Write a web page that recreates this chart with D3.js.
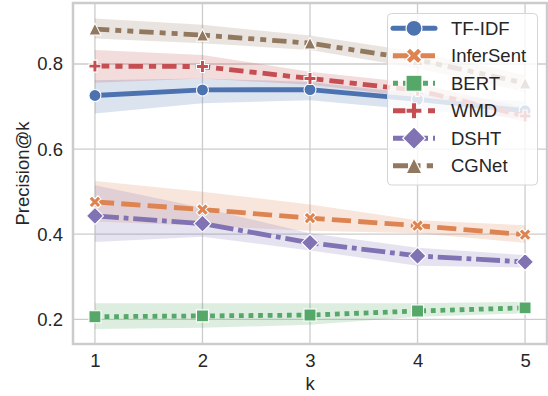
<!DOCTYPE html>
<html>
<head>
<meta charset="utf-8">
<script src="https://cdn.jsdelivr.net/npm/d3@7"></script>
<style>
  html, body { margin: 0; padding: 0; background: #ffffff; }
  svg { display: block; font-family: "Liberation Sans", Arial, sans-serif; }
</style>
</head>
<body>
<svg id="chart" width="548" height="396"></svg>
<script>
// ---- data ----
const kValues = [1, 2, 3, 4, 5];
const seriesNames = ["TF-IDF", "InferSent", "BERT", "WMD", "DSHT", "CGNet"];
const tfidfMean = [0.726, 0.739, 0.740, 0.717, 0.690];
const tfidfLow  = [0.684, 0.708, 0.715, 0.692, 0.672];
const tfidfHigh = [0.762, 0.766, 0.758, 0.730, 0.712];
const inferSentMean = [0.476, 0.458, 0.438, 0.420, 0.399];
const inferSentLow  = [0.430, 0.420, 0.408, 0.402, 0.380];
const inferSentHigh = [0.525, 0.500, 0.470, 0.433, 0.421];
const bertMean = [0.206, 0.208, 0.210, 0.2195, 0.227];
const bertLow  = [0.177, 0.180, 0.187, 0.206, 0.214];
const bertHigh = [0.238, 0.238, 0.2375, 0.2375, 0.241];
const wmdMean = [0.795, 0.794, 0.766, 0.738, 0.678];
const wmdLow  = [0.756, 0.766, 0.751, 0.722, 0.664];
const wmdHigh = [0.833, 0.821, 0.782, 0.755, 0.697];
const dshtMean = [0.443, 0.425, 0.380, 0.349, 0.335];
const dshtLow  = [0.382, 0.394, 0.362, 0.326, 0.322];
const dshtHigh = [0.515, 0.462, 0.402, 0.368, 0.351];
const cgnetMean = [0.882, 0.868, 0.849, 0.810, 0.755];
const cgnetLow  = [0.860, 0.849, 0.833, 0.790, 0.735];
const cgnetHigh = [0.907, 0.892, 0.867, 0.828, 0.774];
const xTicks = [1, 2, 3, 4, 5];
const yTicks = [0.2, 0.4, 0.6, 0.8];
const xLabel = "k";
const yLabel = "Precision@k";

// ---- styles ----
const colors = ["#4c72b0", "#dd8452", "#55a868", "#c44e52", "#8172b3", "#937860"];
const lw = 4.8;
const dashUnits = [null, [4, 1.5], [1, 1], [3, 1.25, 1.5, 1.25], [5, 1, 1, 1], [3, 1.25, 1.25, 1.25, 1.25, 1.25]];
const markerTypes = ["circle", "x", "square", "plus", "diamond", "triangle"];
const fontSize = 18.5;

const series = [
  {mean: tfidfMean, low: tfidfLow, high: tfidfHigh},
  {mean: inferSentMean, low: inferSentLow, high: inferSentHigh},
  {mean: bertMean, low: bertLow, high: bertHigh},
  {mean: wmdMean, low: wmdLow, high: wmdHigh},
  {mean: dshtMean, low: dshtLow, high: dshtHigh},
  {mean: cgnetMean, low: cgnetLow, high: cgnetHigh}
].map((s, i) => ({...s, name: seriesNames[i], color: colors[i], dash: dashUnits[i], marker: markerTypes[i]}));

const svg = d3.select("#chart");
const L = 73, R = 547, T = 3, B = 344;
const x = d3.scaleLinear().domain([0.796, 5.204]).range([L, R]);
const y = d3.scaleLinear().domain([0.142, 0.9434]).range([B, T]);
const textColor = "#262626";
const gridColor = "#cccccc";

// grid
const g = svg.append("g");
g.selectAll(".gx").data(xTicks).join("line")
  .attr("x1", d => x(d)).attr("x2", d => x(d)).attr("y1", T).attr("y2", B)
  .attr("stroke", gridColor).attr("stroke-width", 1.3);
g.selectAll(".gy").data(yTicks).join("line")
  .attr("x1", L).attr("x2", R).attr("y1", d => y(d)).attr("y2", d => y(d))
  .attr("stroke", gridColor).attr("stroke-width", 1.3);

// axes via d3 axis (labels only)
const xAxis = svg.append("g").attr("transform", `translate(0,${B})`)
  .call(d3.axisBottom(x).tickValues(xTicks).tickFormat(d3.format("d")).tickSize(0).tickPadding(10));
const yAxis = svg.append("g").attr("transform", `translate(${L},0)`)
  .call(d3.axisLeft(y).tickValues(yTicks).tickFormat(d3.format(".1f")).tickSize(0).tickPadding(10));
[xAxis, yAxis].forEach(a => {
  a.select(".domain").remove();
  a.selectAll("text").attr("fill", textColor).attr("font-size", fontSize)
    .attr("font-family", "'Liberation Sans', Arial, sans-serif");
});

const clipId = "plotclip";
svg.append("clipPath").attr("id", clipId).append("rect")
  .attr("x", L).attr("y", T).attr("width", R - L).attr("height", B - T);

// bands
const area = d3.area().x((d, i) => x(kValues[i])).y0(d => y(d[0])).y1(d => y(d[1]));
const bands = svg.append("g").attr("clip-path", `url(#${clipId})`);
series.forEach(s => {
  bands.append("path")
    .datum(s.low.map((lo, i) => [lo, s.high[i]]))
    .attr("d", area).attr("fill", s.color).attr("fill-opacity", 0.2).attr("stroke", "none");
});

// marker paths (unit size = s)
function markerPath(type, s) {
  const h = s / 2;
  let pts;
  switch (type) {
    case "circle":
      return d3.symbol(d3.symbolCircle, Math.PI * h * h)();
    case "square":
      pts = [[-h, -h], [h, -h], [h, h], [-h, h]]; break;
    case "diamond": {
      const r = h * Math.SQRT2;
      pts = [[0, -r], [r, 0], [0, r], [-r, 0]]; break;
    }
    case "triangle":
      pts = [[0, -h], [h, h], [-h, h]]; break;
    case "x":
      pts = [[0.25,0],[0.5,0.25],[0.75,0],[1,0.25],[0.75,0.5],[1,0.75],[0.75,1],[0.5,0.75],[0.25,1],[0,0.75],[0.25,0.5],[0,0.25]]
        .map(p => [(p[0] - 0.5) * s, (p[1] - 0.5) * s]); break;
    case "plus": {
      const a = 1/3, b = 2/3;
      pts = [[a,0],[b,0],[b,a],[1,a],[1,b],[b,b],[b,1],[a,1],[a,b],[0,b],[0,a],[a,a]]
        .map(p => [(p[0] - 0.5) * s, (p[1] - 0.5) * s]); break;
    }
  }
  return "M" + pts.map(p => p.join(",")).join("L") + "Z";
}

// lines + markers
const line = d3.line().x((d, i) => x(kValues[i])).y(d => y(d));
const lines = svg.append("g").attr("clip-path", `url(#${clipId})`);
series.forEach(s => {
  const p = lines.append("path").datum(s.mean).attr("d", line)
    .attr("fill", "none").attr("stroke", s.color).attr("stroke-width", lw)
    .attr("stroke-linecap", "round").attr("stroke-linejoin", "round");
  if (s.dash) p.attr("stroke-dasharray", s.dash.map(v => v * lw).join(",")).attr("stroke-linecap", "butt");
  lines.selectAll(null).data(s.mean).join("path")
    .attr("transform", (d, i) => `translate(${x(kValues[i])},${y(d)})`)
    .attr("d", markerPath(s.marker, 12))
    .attr("fill", s.color).attr("stroke", "#ffffff").attr("stroke-width", 1.1)
    .attr("stroke-linejoin", "miter");
});

// frame
svg.append("rect").attr("x", L).attr("y", T).attr("width", R - L).attr("height", B - T)
  .attr("fill", "none").attr("stroke", gridColor).attr("stroke-width", 2.5);

// axis labels
svg.append("text").attr("x", (L + R) / 2).attr("y", 390).attr("text-anchor", "middle")
  .attr("font-size", fontSize).attr("fill", textColor).text(xLabel);
svg.append("text").attr("transform", `translate(29,${(T + B) / 2}) rotate(-90)`)
  .attr("text-anchor", "middle").attr("font-size", fontSize).attr("fill", textColor).text(yLabel);

// legend
const leg = svg.append("g");
leg.append("rect").attr("x", 387.5).attr("y", 13.5).attr("width", 150).attr("height", 171.5)
  .attr("rx", 4).attr("fill", "#ffffff").attr("fill-opacity", 0.8)
  .attr("stroke", "#d5d5d5").attr("stroke-width", 1);
const rowY = d3.scaleLinear().domain([0, 5]).range([28.3, 165.7]);
series.forEach((s, i) => {
  const yy = rowY(i);
  const hl = leg.append("line").attr("x1", 393).attr("x2", 435).attr("y1", yy).attr("y2", yy)
    .attr("stroke", s.color).attr("stroke-width", 5).attr("stroke-linecap", s.dash ? "butt" : "round");
  if (s.dash) hl.attr("stroke-dasharray", s.dash.map(v => v * 5).join(","));
  leg.append("path").attr("transform", `translate(414,${yy})`)
    .attr("d", markerPath(s.marker, 16)).attr("fill", s.color)
    .attr("stroke", "#ffffff").attr("stroke-width", 1.2);
  leg.append("text").attr("x", 451).attr("y", yy + 6.5).attr("font-size", fontSize)
    .attr("fill", textColor).text(s.name);
});
</script>
</body>
</html>
